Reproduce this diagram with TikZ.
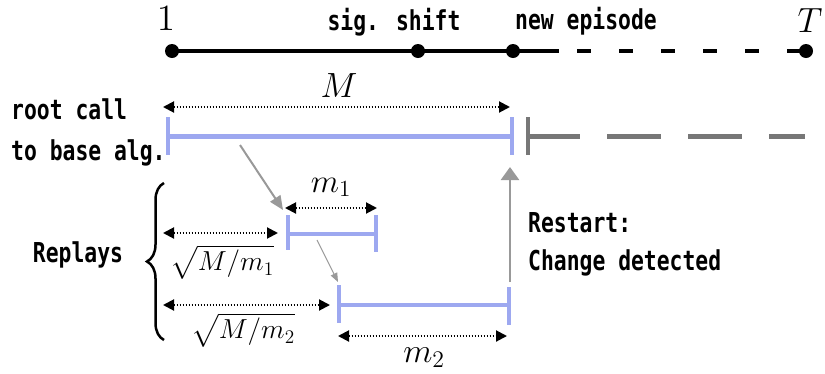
\RequirePackage{fix-cm}
\documentclass[tikz,border=0pt]{standalone}
\usepackage{fontspec}
\DeclareFontShape{OML}{cmm}{m}{it}{<-9>cmmi8<9-11>cmmi10<11->cmmi12}{}
\DeclareFontShape{OMS}{cmsy}{m}{n}{<-9>cmsy8<9->cmsy10}{}
\DeclareFontShape{OMX}{cmex}{m}{n}{<->cmex10}{}
\DeclareFontShape{OT1}{cmr}{m}{n}{<-9>cmr8<9-11>cmr10<11->cmr12}{}
\newfontfamily\lbl[FakeStretch=0.78]{DejaVu Sans Mono}
\usetikzlibrary{arrows.meta,decorations.pathreplacing}
\definecolor{barblue}{HTML}{9DA8F0}
\definecolor{bargray}{HTML}{777777}
\definecolor{arrgray}{HTML}{999999}
\tikzset{
  dotnode/.style={circle,fill=black,inner sep=0pt,minimum size=14pt},
  txt/.style={inner sep=0pt,font=\lbl\bfseries\fontsize{27.4}{30}\selectfont},
  mth/.style={inner sep=0pt,font=\fontsize{34}{36}\selectfont},
  rootlbl/.style={inner sep=0pt,font=\fontsize{27.5}{29}\selectfont},
  dim/.style={{Triangle[length=11pt,width=11pt]}-{Triangle[length=11pt,width=11pt]},line width=2pt,dash pattern=on 1.5pt off 1.5pt},
  bluebar/.style={draw=barblue,line width=5pt},
  bluetick/.style={draw=barblue,line width=4pt},
  graybar/.style={draw=bargray,line width=5pt},
  ptr/.style={draw=arrgray,line width=2pt,-{Triangle[length=14pt,width=12pt]}},
  ptrthin/.style={draw=arrgray,line width=1pt,-{Triangle[length=9pt,width=7pt]}},
}
\begin{document}
\begin{tikzpicture}[x=1pt,y=-1pt]
\useasboundingbox (0,0) rectangle (825,373);
% top timeline
\node[dotnode] (t1) at (172,51) {};
\node[dotnode] (t2) at (418,51) {};
\node[dotnode] (t3) at (513,51) {};
\node[dotnode] (t4) at (806,51) {};
\coordinate (solidend) at (559,51);
\coordinate (dashstart) at (577,51);
\draw[line width=4pt] (t1.center) -- (solidend);
\draw[line width=4pt,dash pattern=on 13.5pt off 28.5pt] (dashstart) -- (t4.center);
\node[mth,font=\fontsize{37}{40}\selectfont,anchor=base] (l1) at (166,30) {$1$};
\node[txt,anchor=base] (lsig) at (394,30) {sig. shift};
\node[txt,anchor=base] (lnew) at (586,29) {new episode};
\node[mth,font=\fontsize{35}{37}\selectfont,anchor=base] (lT) at (810,32) {$T$};
% root call
\node[txt,anchor=base west] (root1) at (11,119) {root call};
\node[txt,anchor=base west] (root2) at (11,160) {to base alg.};
\coordinate (Ma) at (163,107); \coordinate (Mb) at (510,107);
\draw[dim] (Ma) -- (Mb);
\node[mth,font=\fontsize{35}{37}\selectfont,anchor=base] (lM) at (339,97) {$M$};
\coordinate (r0t) at (168,117); \coordinate (r0b) at (168,155);
\coordinate (r0l) at (168,136); \coordinate (r0r) at (512,136);
\coordinate (r1t) at (512,117); \coordinate (r1b) at (512,155);
\draw[bluebar] (r0l) -- (r0r);
\draw[bluetick] (r0t) -- (r0b);
\draw[bluetick] (r1t) -- (r1b);
% gray continuation
\coordinate (g0t) at (528,117); \coordinate (g0b) at (528,155);
\coordinate (g0l) at (526,136); \coordinate (g0r) at (805,136);
\draw[draw=bargray,line width=4pt] (g0t) -- (g0b);
\draw[graybar,dash pattern=on 54pt off 27pt] (g0l) -- (g0r);
% pointer to first replay
\coordinate (p1a) at (240,145); \coordinate (p1b) at (283,210);
\draw[ptr] (p1a) -- (p1b);
% replay 1
\coordinate (m1a) at (285,208); \coordinate (m1b) at (377,208);
\draw[dim] (m1a) -- (m1b);
\node[mth,font=\fontsize{33}{35}\selectfont,anchor=base] (lm1) at (331,192) {$m_1$};
\coordinate (a1t) at (288,215); \coordinate (a1b) at (288,250);
\coordinate (a1l) at (288,234); \coordinate (a1r) at (376,234);
\coordinate (b1t) at (376,215); \coordinate (b1b) at (376,252);
\draw[bluebar,line width=4pt] (a1l) -- (a1r);
\draw[bluetick] (a1t) -- (a1b);
\draw[bluetick] (b1t) -- (b1b);
\coordinate (s1a) at (163,233); \coordinate (s1b) at (278,233);
\draw[dim] (s1a) -- (s1b);
\node[rootlbl,anchor=north] (ls1) at (222,245) {$\sqrt{M/m_1}$};
% pointer to second replay
\coordinate (p2a) at (317,240); \coordinate (p2b) at (338,282);
\draw[ptrthin] (p2a) -- (p2b);
% replay 2
\coordinate (a2t) at (339,285); \coordinate (a2b) at (339,323);
\coordinate (a2l) at (339,305); \coordinate (a2r) at (509,305);
\coordinate (b2t) at (509,287); \coordinate (b2b) at (509,325);
\draw[bluebar,line width=4pt] (a2l) -- (a2r);
\draw[bluetick] (a2t) -- (a2b);
\draw[bluetick] (b2t) -- (b2b);
\coordinate (s2a) at (163,305); \coordinate (s2b) at (330,305);
\draw[dim] (s2a) -- (s2b);
\node[rootlbl,anchor=north] (ls2) at (243,313) {$\sqrt{M/m_2}$};
\coordinate (m2a) at (338,336); \coordinate (m2b) at (507,336);
\draw[dim] (m2a) -- (m2b);
\node[mth,anchor=base] (lm2) at (424,362) {$m_2$};
% restart arrow
\coordinate (rsa) at (510,282); \coordinate (rsb) at (510,167);
\draw[ptr,line width=2.5pt,-{Triangle[length=13pt,width=18pt]}] (rsa) -- (rsb);
\node[txt,anchor=base west] (rs1) at (528,232) {Restart:};
\node[txt,anchor=base west] (rs2) at (528,270) {Change detected};
% replays brace
\coordinate (brb) at (164,340); \coordinate (brt) at (164,183);
\draw[line width=2.5pt,decorate,decoration={brace,amplitude=17pt}] (brb) -- (brt);
\node[txt,anchor=base] (lrep) at (78,262) {Replays};
\end{tikzpicture}
\end{document}
